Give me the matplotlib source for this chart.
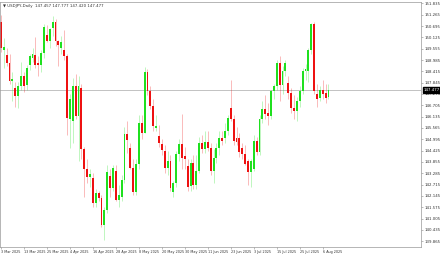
import numpy as np
import pandas as pd
import matplotlib
matplotlib.use("Agg")
import matplotlib.pyplot as plt

# USDJPY daily bars, 3 Mar 2025 .. 8 Aug 2025
opens = [150.90, 149.50, 149.25, 148.83, 147.95, 147.58, 147.17, 147.67, 148.17, 147.75,
         148.75, 149.07, 149.25, 148.83, 148.75, 149.33, 150.27, 149.92, 150.58, 150.92,
         149.92, 149.60, 149.50, 149.17, 146.02, 145.92, 147.67, 146.17, 147.60, 144.50,
         143.50, 143.10, 143.02, 141.77, 142.27, 142.02, 140.67, 141.42, 143.17, 142.52,
         143.42, 141.92, 142.07, 142.92, 145.27, 144.57, 143.57, 142.32, 143.77, 145.82,
         145.32, 148.40, 147.45, 146.67, 145.57, 145.17, 144.77, 144.42, 143.57, 143.92,
         142.32, 142.77, 144.27, 144.77, 144.17, 143.67, 142.62, 143.82, 142.67, 143.42,
         144.82, 144.52, 144.85, 144.57, 143.42, 144.07, 144.58, 145.08, 145.08, 145.42,
         146.58, 146.00, 145.08, 145.08, 144.58, 144.27, 143.92, 143.33, 143.52, 144.92,
         144.33, 146.00, 146.50, 146.33, 146.17, 147.42, 147.67, 148.83, 147.75, 148.42,
         147.83, 147.33, 146.58, 146.42, 146.92, 147.42, 148.42, 148.42, 149.50, 150.82,
         147.25, 147.08, 147.50, 147.33, 147.10]
highs = [151.25, 150.10, 149.60, 149.30, 148.40, 147.90, 147.90, 148.90, 148.40, 148.75,
         149.30, 149.60, 150.15, 149.20, 149.50, 150.80, 150.75, 150.60, 151.20, 151.05,
         150.00, 150.20, 150.50, 149.30, 147.30, 148.10, 148.30, 148.20, 147.80, 144.60,
         144.00, 143.50, 143.30, 142.50, 142.40, 142.20, 141.60, 143.70, 143.50, 143.70,
         143.70, 142.70, 143.20, 145.60, 145.90, 144.80, 144.00, 144.00, 146.20, 146.20,
         148.65, 148.55, 147.70, 147.00, 146.20, 145.70, 145.00, 144.70, 144.40, 144.20,
         142.90, 144.40, 145.00, 146.27, 144.60, 144.00, 144.00, 144.20, 144.20, 145.10,
         145.20, 145.40, 145.40, 144.80, 144.50, 144.80, 145.40, 145.40, 145.80, 146.20,
         148.00, 146.20, 145.60, 145.30, 144.80, 144.70, 144.00, 144.00, 145.20, 145.10,
         146.20, 146.90, 147.20, 146.80, 147.50, 147.80, 149.00, 149.17, 148.70, 149.00,
         148.20, 147.60, 147.20, 147.10, 147.70, 148.60, 148.80, 149.60, 150.85, 150.92,
         147.80, 147.70, 148.00, 147.80, 147.777]
lows = [149.40, 148.60, 148.70, 147.80, 146.90, 146.60, 146.55, 147.50, 147.40, 147.50,
        148.50, 148.90, 148.60, 148.20, 148.40, 149.10, 149.90, 149.60, 150.20, 149.70,
        148.70, 149.30, 149.00, 145.20, 144.55, 144.80, 146.00, 143.90, 144.00, 142.10,
        142.80, 142.60, 141.60, 141.60, 141.90, 140.60, 139.92, 141.30, 142.10, 142.40,
        141.90, 141.60, 141.90, 142.80, 144.30, 143.50, 142.20, 142.20, 143.50, 145.00,
        145.30, 147.20, 146.50, 145.40, 145.40, 144.60, 144.20, 143.30, 143.20, 142.40,
        142.10, 142.60, 143.90, 143.50, 143.50, 142.40, 142.40, 142.50, 142.50, 143.30,
        144.30, 144.30, 144.40, 143.20, 142.80, 143.80, 144.20, 144.70, 144.80, 145.20,
        145.90, 144.70, 144.70, 144.10, 144.00, 143.70, 142.70, 142.60, 143.40, 144.20,
        144.20, 145.80, 146.00, 145.70, 146.00, 147.00, 147.50, 146.90, 147.30, 148.20,
        147.00, 146.30, 146.00, 145.90, 146.60, 147.30, 148.00, 147.90, 149.30, 147.30,
        146.60, 146.90, 147.00, 146.80, 147.00]
closes = [149.59, 149.62, 148.83, 147.95, 148.02, 147.17, 147.67, 148.17, 147.67, 148.58,
          149.17, 149.27, 148.75, 148.75, 149.35, 150.67, 149.92, 150.55, 150.92, 149.92,
          149.75, 149.90, 149.17, 146.08, 147.02, 147.67, 146.17, 147.67, 144.50, 143.50,
          143.10, 143.25, 141.77, 142.27, 142.02, 140.67, 141.42, 143.33, 142.52, 143.57,
          141.92, 142.17, 142.92, 145.27, 144.97, 143.57, 142.32, 143.77, 145.82, 145.32,
          148.40, 147.45, 146.67, 145.67, 145.67, 144.80, 144.47, 143.57, 143.92, 142.52,
          142.77, 144.27, 144.77, 144.07, 144.02, 142.57, 143.82, 142.67, 143.42, 144.82,
          144.52, 144.85, 144.57, 143.42, 144.07, 144.57, 145.08, 144.90, 145.42, 146.08,
          146.00, 144.92, 144.85, 144.33, 144.27, 143.77, 143.33, 143.92, 144.92, 144.33,
          146.00, 146.50, 146.25, 146.17, 147.42, 147.67, 148.83, 147.75, 148.42, 148.83,
          147.33, 146.58, 146.42, 146.92, 147.42, 148.42, 148.52, 149.50, 150.82, 147.42,
          147.00, 147.50, 147.30, 147.08, 147.477]

dates = pd.bdate_range("2025-03-03", periods=len(opens))
price_ticks = [139.865 + 0.57 * k for k in range(22)]
last_price = 147.477
title = "\u25bc USDJPY,Daily  147.457 147.777 147.420 147.477"

o = np.array(opens)
h = np.array(highs)
l = np.array(lows)
c = np.array(closes)
x = np.arange(len(o))
up = c >= o
bull = "#1fe01f"
bear = "#ee1111"
cols = np.where(up, bull, bear)

fig = plt.figure(figsize=(4.4, 2.54), dpi=100)
ax = fig.add_axes([0.001, 7 / 254, 421 / 440, 246 / 254 - 0.003])

ax.vlines(x, l, h, colors=cols, lw=0.5, alpha=0.4)
body = np.maximum(np.abs(c - o), 0.03)
ax.bar(x, body, bottom=np.minimum(o, c), width=0.66, color=cols, linewidth=0)

ax.axhline(last_price, color="#b8b8b8", lw=0.6, zorder=0)

ax.set_xlim(-0.17, 146.35)
ax.set_ylim(139.57, 151.92)

ax.yaxis.tick_right()
ax.set_yticks(price_ticks)
ax.set_yticklabels([f"{p:.3f}" for p in price_ticks])
xt = list(range(0, len(o), 8))
ax.set_xticks(xt)
ax.set_xticklabels([f"{dates[i].day} {dates[i]:%b %Y}" for i in xt], ha="left")
ax.tick_params(axis="both", length=1.5, width=0.4, color="#888888",
               labelcolor="#333333", pad=1)
ax.tick_params(axis="y", labelsize=2.8)
ax.tick_params(axis="x", labelsize=2.4)

for s in ax.spines.values():
    s.set_color("#999999")
    s.set_linewidth(0.5)

ax.annotate(f"{last_price:.3f}", xy=(1.0, last_price), xycoords=("axes fraction", "data"),
            xytext=(1.5, 0), textcoords="offset points", ha="left", va="center",
            fontsize=2.8, color="white",
            bbox=dict(boxstyle="square,pad=0.25", fc="black", ec="black"))

ax.text(0.006, 0.992, title, transform=ax.transAxes, ha="left", va="top",
        fontsize=2.8, color="#333333")

fig.savefig("out.png", dpi=100)
